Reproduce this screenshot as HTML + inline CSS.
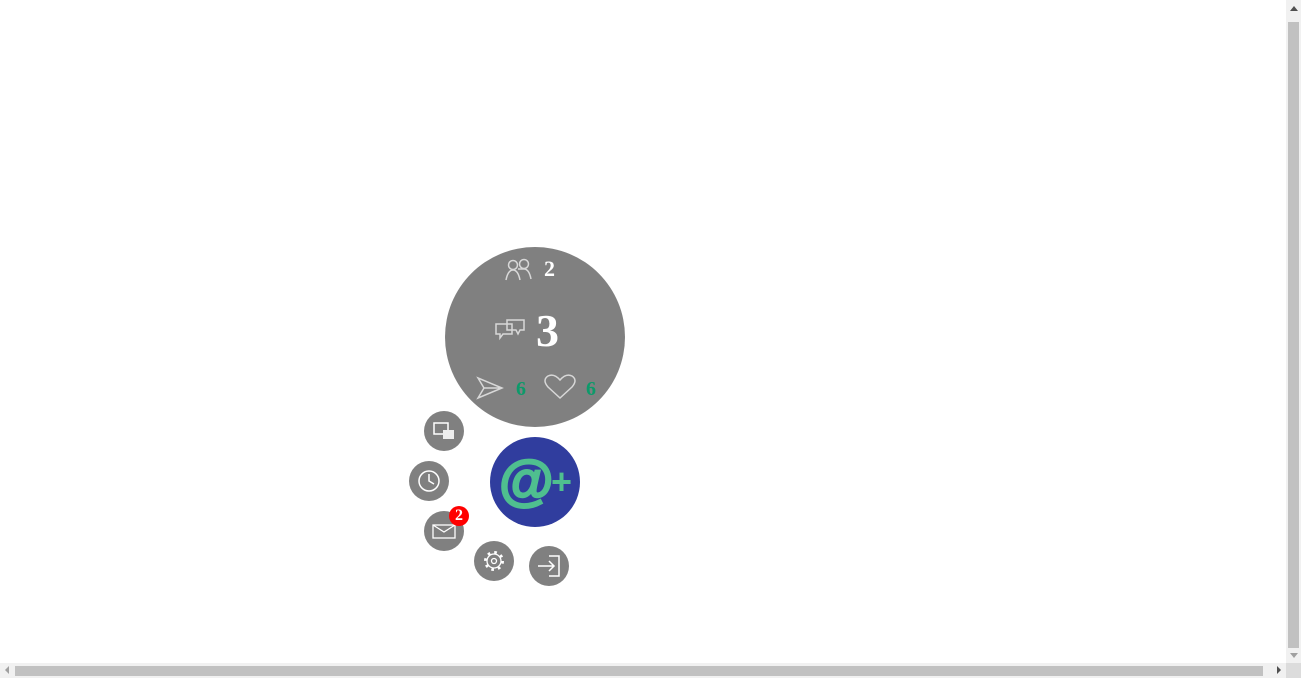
<!DOCTYPE html>
<html><head><meta charset="utf-8"><style>
html,body{margin:0;padding:0;width:1301px;height:678px;overflow:hidden;background:#fff;font-family:"Liberation Serif",serif;}
.abs{position:absolute}
.c{position:absolute;border-radius:50%;background:#808080}
.sm{width:40px;height:40px}
svg{position:absolute;left:0;top:0}
.num{position:absolute;font-weight:bold;color:#fff}
</style></head><body>
<div class="abs" style="left:1286px;top:0;width:15px;height:663px;background:#f1f1f1">
 <div class="abs" style="left:4px;top:6px;width:0;height:0;border-left:4px solid transparent;border-right:4px solid transparent;border-bottom:5px solid #505050"></div>
 <div class="abs" style="left:2px;top:22px;width:11px;height:626px;background:#c1c1c1"></div>
 <div class="abs" style="left:4px;top:653px;width:0;height:0;border-left:4px solid transparent;border-right:4px solid transparent;border-top:5px solid #a0a0a0"></div>
</div>
<div class="abs" style="left:0;top:663px;width:1286px;height:15px;background:#f1f1f1">
 <div class="abs" style="left:5px;top:3px;width:0;height:0;border-top:4px solid transparent;border-bottom:4px solid transparent;border-right:4px solid #a0a0a0"></div>
 <div class="abs" style="left:15px;top:3px;width:1248px;height:10px;background:#c1c1c1"></div>
 <div class="abs" style="left:1277px;top:3px;width:0;height:0;border-top:4px solid transparent;border-bottom:4px solid transparent;border-left:4px solid #505050"></div>
</div>
<div class="abs" style="left:1286px;top:663px;width:15px;height:15px;background:#dcdcdc"></div>

<div class="c" style="left:445px;top:247px;width:180px;height:180px">
 <svg width="180" height="180" fill="none" stroke="#d8d8d8" stroke-width="1.5">
  <circle cx="68" cy="18" r="4.5"/><path d="M61 33 q2-10 7-10 q5 0 7 10"/>
  <circle cx="79" cy="17" r="4.5"/><path d="M73 22 q2-0 6-0 q5 0 7 10"/>
  <path d="M51 77 h16 v10 h-9 l-3 4 v-4 h-4z"/><path d="M62 73 h17 v10 h-4 l-2 4 -2 -4 h-9z"/>
  <path d="M33 131 l24 10 -24 10 6 -10z M39 141 h18"/>
  <path d="M115 151 l-12 -11 q-6 -7 0 -11 q6 -3 12 4 q6 -7 12 -4 q6 4 0 11z"/>
 </svg>
 <div class="num" style="left:99px;top:9px;font-size:22px">2</div>
 <div class="num" style="left:91px;top:57px;font-size:46px">3</div>
 <div class="num" style="left:71px;top:131px;font-size:20px;color:#0d9a6a">6</div>
 <div class="num" style="left:141px;top:131px;font-size:20px;color:#0d9a6a">6</div>
</div>

<div class="c" style="left:490px;top:437px;width:90px;height:90px;background:#303d9e">
 <div class="abs" style="left:9px;top:8px;font-family:'Liberation Sans',sans-serif;font-size:56px;font-weight:bold;color:#4fbf8f;line-height:70px;-webkit-text-stroke:2px #4fbf8f">@</div>
 <div class="abs" style="left:61px;top:22px;font-family:'Liberation Sans',sans-serif;font-size:36px;font-weight:bold;color:#4fbf8f;line-height:46px">+</div>
</div>

<div class="c sm" style="left:424px;top:411px">
 <svg width="40" height="40" fill="none" stroke="#fff" stroke-width="1.5"><rect x="10" y="12" width="14" height="11"/><rect x="19" y="19" width="11" height="9" fill="#eee" stroke="none"/></svg>
</div>
<div class="c sm" style="left:409px;top:461px">
 <svg width="40" height="40" fill="none" stroke="#fff" stroke-width="1.5"><circle cx="20" cy="20" r="10"/><path d="M20 13 v7 l5 3"/></svg>
</div>
<div class="c sm" style="left:424px;top:511px">
 <svg width="40" height="40" fill="none" stroke="#fff" stroke-width="1.3"><rect x="9" y="14" width="22" height="13"/><path d="M9 14 l11 7 11-7"/></svg>
</div>
<div class="c" style="left:449px;top:506px;width:20px;height:20px;background:#f00;color:#fff;font-weight:bold;font-size:16px;text-align:center;line-height:20px">2</div>
<div class="c sm" style="left:474px;top:541px">
 <svg width="40" height="40" fill="none" stroke="#fff" stroke-width="1.3"><circle cx="20" cy="20" r="2.5"/><circle cx="20" cy="20" r="7"/><circle cx="20" cy="20" r="8.5" stroke-width="3" stroke-dasharray="2.6 4.07"/></svg>
</div>
<div class="c sm" style="left:529px;top:546px">
 <svg width="40" height="40" fill="none" stroke="#fff" stroke-width="1.5"><path d="M20 10 h10 v20 h-10"/><path d="M9 20 h16 M20 15 l5 5 -5 5"/></svg>
</div>
</body></html>
